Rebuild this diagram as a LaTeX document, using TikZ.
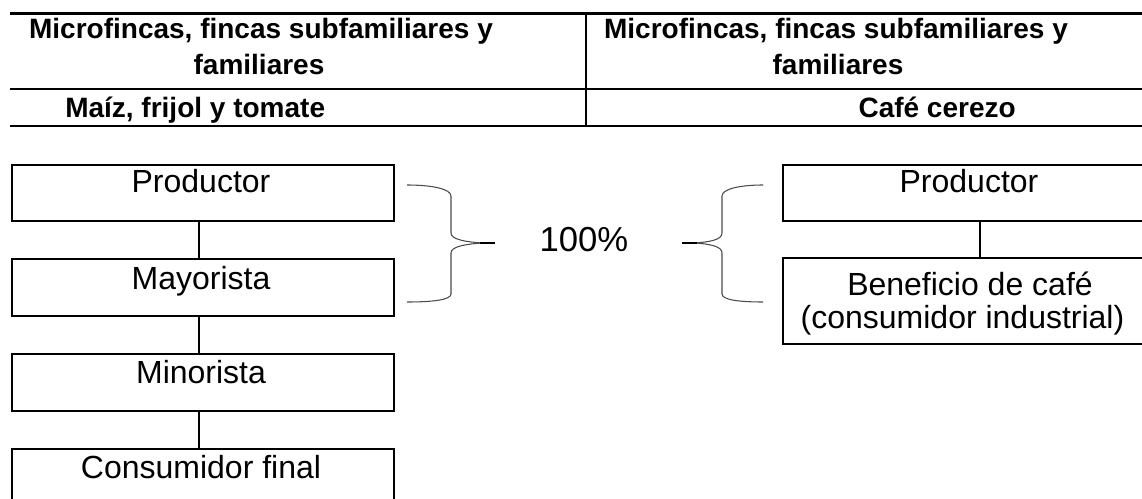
\documentclass[tikz,border=0pt]{standalone}
\usepackage{fontspec}
\setmainfont{Liberation Sans}
\usetikzlibrary{calc}
\newcommand{\hdr}[1]{\scalebox{1}[1.0]{\fontsize{21}{25}\selectfont\bfseries #1}}
\newcommand{\bxt}[1]{\scalebox{1}[1.0]{\fontsize{24}{28}\selectfont #1}}
\begin{document}
\begin{tikzpicture}[x=0.75pt,y=-0.75pt,
  rule/.style={line width=1.6pt},
  vrule/.style={line width=1.1pt},
  box/.style={draw, line width=1.5pt, rectangle, inner sep=0pt, outer sep=0pt},
  lbl/.style={anchor=base, inner sep=0pt},
  link/.style={line width=1.4pt},
  brace/.style={draw=black!70, line width=0.8pt}]
\clip (0,0) rectangle (1142,499);
\fill[white] (0,0) rectangle (1142,499);
% table rules
\draw[rule] (10,13.5) -- (1142,13.5);
\draw[rule] (10,89) -- (1142,89);
\draw[rule] (10,126) -- (1142,126);
\draw[vrule] (586,13.5) -- (586,126);
% header texts
\node[lbl] (h1a) at (261,39) {\hdr{Microfincas, fincas subfamiliares y}};
\node[lbl] (h1b) at (259,75) {\hdr{familiares}};
\node[lbl] (h2a) at (836,39) {\hdr{Microfincas, fincas subfamiliares y}};
\node[lbl] (h2b) at (838,75) {\hdr{familiares}};
\node[lbl, anchor=base west] (h3) at (65,118) {\hdr{Maíz, frijol y tomate}};
\node[lbl, anchor=base east] (h4) at (1016,118) {\hdr{Café cerezo}};
% left chain
\node[box, minimum width=286.5pt, minimum height=42pt] (p1) at (203,193) {};
\node[box, minimum width=286.5pt, minimum height=42.75pt] (p2) at (203,287.5) {};
\node[box, minimum width=286.5pt, minimum height=42.75pt] (p3) at (203,382.5) {};
\node[box, minimum width=286.5pt, minimum height=42.75pt] (p4) at (203,477.5) {};
\node[lbl] (t1) at ($(p1.north)+(-2,28)$) {\bxt{Productor}};
\node[lbl] (t2) at ($(p2.north)+(-2,30)$) {\bxt{Mayorista}};
\node[lbl] (t3) at ($(p3.north)+(-2,29)$) {\bxt{Minorista}};
\node[lbl] (t4) at ($(p4.north)+(-2,29)$) {\bxt{Consumidor final}};
\draw[link] ([xshift=-3pt]p1.south) -- ([xshift=-3pt]p2.north);
\draw[link] ([xshift=-3pt]p2.south) -- ([xshift=-3pt]p3.north);
\draw[link] ([xshift=-3pt]p3.south) -- ([xshift=-3pt]p4.north);
% right chain
\node[box, minimum width=280.5pt, minimum height=42pt] (r1) at (970,193) {};
\node[box, minimum width=280.5pt, minimum height=64.5pt] (r2) at (970,301) {};
\node[lbl] (s1) at ($(r1.north)+(-1,28)$) {\bxt{Productor}};
\node[lbl] (s2) at ($(r2.north)+(0,37)$) {\bxt{Beneficio de café}};
\node[lbl] (s3) at ($(r2.north)+(-7.5,70)$) {\bxt{(consumidor industrial)}};
\draw[link] ([xshift=7.5pt]r1.south) -- ([xshift=7.5pt]r2.north);
% percentage
\node[lbl] (pct) at (584,251) {\scalebox{1}[1.0]{\fontsize{26}{30}\selectfont 100\%}};
% left brace
\draw[brace] (407,185) .. controls (432,185) and (451,189) .. (451,196) -- (451,233)
  .. controls (451,240) and (468,242) .. (482,243);
\draw[brace] (482,243) .. controls (468,244) and (451,246) .. (451,253) -- (451,294)
  .. controls (451,300) and (432,302) .. (407,302);
\draw[line width=1.2pt] (480,243) -- (495,243);
% right brace
\draw[brace] (763,185) .. controls (740,185) and (722,189) .. (722,196) -- (722,233)
  .. controls (722,240) and (709,242) .. (695,243);
\draw[brace] (695,243) .. controls (709,244) and (722,246) .. (722,253) -- (722,294)
  .. controls (722,300) and (740,302) .. (763,302);
\draw[line width=1.2pt] (682,243) -- (697,243);
\end{tikzpicture}
\end{document}
